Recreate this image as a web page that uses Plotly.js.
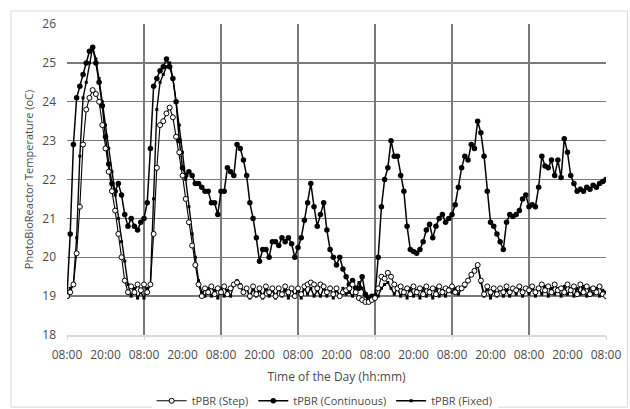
<!DOCTYPE html>
<html>
<head>
<meta charset="utf-8">
<script src="https://cdn.plot.ly/plotly-3.0.1.min.js"></script>
<style>html,body{margin:0;padding:0;background:#fff;}#chart{width:630px;height:409px;}</style>
</head>
<body>
<div id="chart"></div>
<script>
// Hours since the first 08:00 (hourly readings over 7 days)
const hours = Array.from({length: 169}, (_, i) => i);

const tickHours = [0, 12, 24, 36, 48, 60, 72, 84, 96, 108, 120, 132, 144, 156, 168];
const tickLabels = ["08:00","20:00","08:00","20:00","08:00","20:00","08:00","20:00","08:00","20:00","08:00","20:00","08:00","20:00","08:00"];
const gridHours = [0, 24, 48, 72, 96, 120, 144, 168];

const stepTemp = [
  19.0,19.1,19.3,20.1,21.3,22.9,23.8,24.1,24.3,24.2,24.0,23.4,22.8,22.2,21.7,21.2,20.6,20.0,19.4,19.1,19.25,19.1,19.3,19.15,
  19.3,19.1,19.3,20.6,22.3,23.4,23.5,23.7,23.85,23.6,23.1,22.7,22.1,21.5,20.9,20.3,19.8,19.3,19.0,19.2,19.1,19.25,19.05,19.2,
  19.1,19.25,19.05,19.2,19.3,19.35,19.25,19.1,19.2,19.0,19.25,19.05,19.2,19.0,19.25,19.1,19.2,19.0,19.2,19.05,19.25,19.1,19.2,19.0,
  19.2,19.05,19.25,19.3,19.35,19.3,19.2,19.3,19.25,19.1,19.2,19.05,19.2,19.0,19.1,19.15,19.2,19.3,19.1,18.95,18.9,18.85,18.85,18.9,
  18.95,19.2,19.5,19.45,19.6,19.5,19.3,19.2,19.25,19.1,19.2,19.05,19.25,19.1,19.2,19.05,19.25,19.1,19.2,19.05,19.25,19.1,19.2,19.15,
  19.25,19.1,19.2,19.2,19.3,19.4,19.55,19.65,19.8,19.4,19.05,19.25,19.1,19.2,19.05,19.2,19.1,19.25,19.1,19.2,19.15,19.25,19.1,19.2,
  19.15,19.25,19.1,19.2,19.3,19.15,19.25,19.1,19.3,19.15,19.2,19.1,19.3,19.15,19.25,19.05,19.3,19.1,19.25,19.05,19.2,19.1,19.25,19.05,19.0
];

const continuousTemp = [
  19.0,20.6,22.9,24.1,24.4,24.7,25.0,25.3,25.4,25.0,24.5,23.9,23.1,22.4,21.9,21.7,21.9,21.6,21.1,20.8,21.0,20.8,20.7,20.9,
  21.0,21.4,22.8,24.4,24.6,24.8,24.9,25.1,24.9,24.6,24.0,23.0,22.3,22.1,22.2,22.1,21.9,21.9,21.8,21.7,21.7,21.4,21.4,21.1,
  21.7,21.7,22.3,22.2,22.1,22.9,22.8,22.5,22.1,21.4,21.0,20.5,19.9,20.2,20.2,20.0,20.4,20.4,20.3,20.5,20.4,20.5,20.35,20.0,
  20.25,20.5,20.95,21.4,21.9,21.3,20.8,21.1,21.4,20.7,20.2,20.0,19.8,20.0,19.7,19.5,19.3,19.4,19.2,19.2,19.5,19.05,18.95,19.0,
  19.0,20.0,21.3,22.0,22.3,23.0,22.6,22.6,22.1,21.7,20.8,20.2,20.15,20.1,20.2,20.4,20.7,20.85,20.5,20.8,21.0,21.1,20.9,21.0,
  21.1,21.35,21.8,22.3,22.6,22.5,22.9,22.8,23.5,23.2,22.6,21.7,20.9,20.8,20.6,20.4,20.2,20.9,21.1,21.05,21.1,21.2,21.5,21.6,
  21.3,21.35,21.3,21.8,22.6,22.35,22.3,22.5,22.1,22.5,22.05,23.05,22.7,22.1,21.9,21.7,21.75,21.7,21.8,21.75,21.85,21.8,21.9,21.95,22.0
];

const fixedTemp = [
  19.0,19.2,19.3,20.5,22.6,24.1,24.5,25.0,25.4,25.1,24.6,24.0,23.4,22.8,22.2,21.6,21.0,20.4,19.9,19.3,19.0,19.2,18.95,19.1,
  18.95,19.2,19.3,21.5,23.8,24.5,24.7,24.9,25.0,24.6,24.0,23.4,22.7,22.0,21.3,20.6,20.0,19.4,19.1,19.0,19.2,19.0,19.15,18.95,
  19.2,19.0,19.15,19.0,19.3,19.4,19.3,19.1,19.2,18.95,19.2,19.0,19.15,18.95,19.2,19.0,19.15,18.95,19.2,19.0,19.15,18.95,19.2,19.0,
  19.15,18.95,19.2,19.05,19.2,19.0,19.15,19.0,19.2,19.0,19.2,18.95,19.15,19.0,19.2,19.05,19.1,19.0,19.2,19.35,19.2,19.0,18.9,18.9,
  18.95,19.0,19.2,19.3,19.35,19.2,19.05,19.2,19.0,19.15,18.95,19.2,19.0,19.15,18.95,19.2,19.0,19.15,18.95,19.2,19.0,19.15,19.0,19.2,
  19.1,19.2,19.05,19.2,19.25,19.4,19.55,19.65,19.8,19.35,19.0,19.2,18.95,19.15,19.0,19.2,19.0,19.15,19.0,19.2,19.05,19.2,19.0,19.2,
  19.05,19.2,19.0,19.2,19.05,19.25,19.0,19.2,19.05,19.2,19.0,19.25,19.05,19.2,19.0,19.2,19.05,19.25,19.0,19.2,19.05,19.2,19.0,19.15,19.1
];

const FONT = "Open Sans, Liberation Sans, sans-serif";
const TXT = "#4a4a4a";
const GRID = "#7a7a7a";

const traces = [
  {
    x: hours, y: continuousTemp, name: "tPBR (Continuous)", type: "scatter", mode: "lines+markers",
    line: {color: "#000", width: 1.5},
    marker: {symbol: "circle", size: 5.5, color: "#000"},
    legendrank: 2
  },
  {
    x: hours, y: fixedTemp, name: "tPBR (Fixed)", type: "scatter", mode: "lines+markers",
    line: {color: "#000", width: 1.4},
    marker: {symbol: "square", size: 3, color: "#000"},
    legendrank: 3
  },
  {
    x: hours, y: stepTemp, name: "tPBR (Step)", type: "scatter", mode: "lines+markers",
    xaxis: "x2",
    line: {color: "#000", width: 1.1},
    marker: {symbol: "circle", size: 5, color: "#fff", line: {color: "#000", width: 1}},
    legendrank: 1
  }
];

const layout = {
  width: 630, height: 409,
  margin: {l: 67, r: 24, t: 24, b: 74, autoexpand: false},
  paper_bgcolor: "#fff", plot_bgcolor: "#fff",
  font: {family: FONT, color: TXT, size: 12},
  showlegend: true,
  legend: {
    orientation: "h", x: 0.478, xanchor: "center",
    yref: "container", y: 0.02, yanchor: "middle",
    font: {family: FONT, size: 11, color: TXT}, itemwidth: 30, tracegroupgap: 0
  },
  xaxis: {
    range: [0, 168], tickmode: "array", tickvals: tickHours, ticktext: tickLabels,
    showgrid: false, zeroline: false, ticks: "", ticklabelstandoff: 8,
    showline: true, linecolor: "#d9d9d9", linewidth: 1.5,
    tickfont: {family: FONT, size: 12, color: TXT},
    title: {text: "Time of the Day (hh:mm)", font: {family: FONT, size: 12, color: TXT}, standoff: 10},
    automargin: false,
    fixedrange: true
  },
  xaxis2: {
    overlaying: "x", anchor: "y", side: "bottom",
    range: [0, 168], tickmode: "array", tickvals: gridHours,
    showgrid: true, gridcolor: GRID, gridwidth: 1.4,
    showticklabels: false, ticks: "outside", ticklen: 4, tickcolor: "#d9d9d9",
    zeroline: false, showline: false, fixedrange: true
  },
  yaxis: {
    range: [18, 26], tickmode: "linear", tick0: 18, dtick: 1,
    showgrid: true, gridcolor: GRID, gridwidth: 1.4, zeroline: false,
    ticks: "", ticklabelstandoff: 10,
    tickfont: {family: FONT, size: 12, color: TXT},
    title: {text: "PhotoBioReactor Temperature (oC)", font: {family: FONT, size: 11, color: TXT}, standoff: 6},
    automargin: false,
    fixedrange: true
  },
  shapes: [
    {type: "rect", xref: "paper", yref: "paper", x0: -0.104, x1: 1.04, y0: -0.232, y1: 1.042,
     line: {color: "#d9d9d9", width: 1}, fillcolor: "rgba(0,0,0,0)", layer: "below"}
  ]
};

Plotly.newPlot("chart", traces, layout, {displayModeBar: false, staticPlot: true});
</script>
</body>
</html>
